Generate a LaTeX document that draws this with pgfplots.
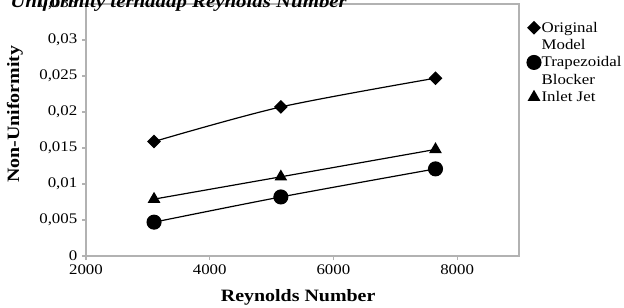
\documentclass[border=0pt]{standalone}
\usepackage{fontspec}
\setmainfont[FakeStretch=1.15]{Liberation Serif}
\usepackage{pgfplots}
\pgfplotsset{compat=1.18}
\begin{document}
\begin{tikzpicture}
\path[use as bounding box] (0,0) rectangle (468pt,230.25pt);
\begin{axis}[
  scale only axis, width=324.75pt, height=189pt,
  at={(64.5pt,38.25pt)}, anchor=south west,
  xmin=2000, xmax=9000, ymin=0, ymax=0.035,
  xtick={2000,4000,6000,8000},
  ytick={0,0.005,0.01,0.015,0.02,0.025,0.03,0.035},
  scaled y ticks=false, scaled x ticks=false,
  axis line style={draw=black!30, line width=0.8pt},
  tick style={draw=black!30, line width=0.8pt},
  tick align=outside, major tick length=3pt,
  xtick pos=left, ytick pos=left,
  /pgf/number format/assume math mode=true,
  y tick label style={/pgf/number format/fixed, /pgf/number format/use comma, /pgf/number format/precision=3},
  x tick label style={/pgf/number format/1000 sep={}},
  tick label style={font=\fontsize{11}{13}\selectfont},
  xlabel={Reynolds Number}, ylabel={Non-Uniformity},
  label style={font=\bfseries\fontsize{13}{15}\selectfont},
  xlabel style={at={(axis description cs:0.49,-0.163)}, anchor=center},
  ylabel style={at={(axis description cs:-0.164,0.563)}, anchor=center, rotate=0},
  legend style={draw=none, fill=none, at={(axis description cs:1.018,0.94)}, anchor=north west,
    font=\fontsize{11}{13}\selectfont, row sep=0pt, inner sep=0pt,
    nodes={inner sep=0.5pt, text height=9pt, text depth=3pt}, cells={anchor=base west}},
  legend image code/.code={\draw[#1, only marks, yshift=0.32em] plot coordinates {(0.17cm,0cm)};},
]
\addplot[black, line width=0.9pt, smooth, mark=square*, mark size=3.2pt, mark options={rotate=45}]
  coordinates {(3100,0.0159) (5150,0.0207) (7650,0.0247)};
\addlegendentry{Original}
\addlegendimage{empty legend}
\addlegendentry{Model}
\addplot[black, line width=0.9pt, smooth, mark=*, mark size=5.2pt]
  coordinates {(3100,0.0047) (5150,0.0082) (7650,0.0121)};
\addlegendentry{Trapezoidal}
\addlegendimage{empty legend}
\addlegendentry{Blocker}
\addplot[black, line width=0.9pt, smooth, mark=triangle*, mark size=4.6pt]
  coordinates {(3100,0.0079) (5150,0.0110) (7650,0.0148)};
\addlegendentry{Inlet Jet}
\end{axis}
\node[anchor=base west, inner sep=0pt, font=\bfseries\itshape\fontsize{13.6}{16}\selectfont] at (7.5pt,224.25pt) {Uniformity terhadap Reynolds Number};
\end{tikzpicture}
\end{document}
